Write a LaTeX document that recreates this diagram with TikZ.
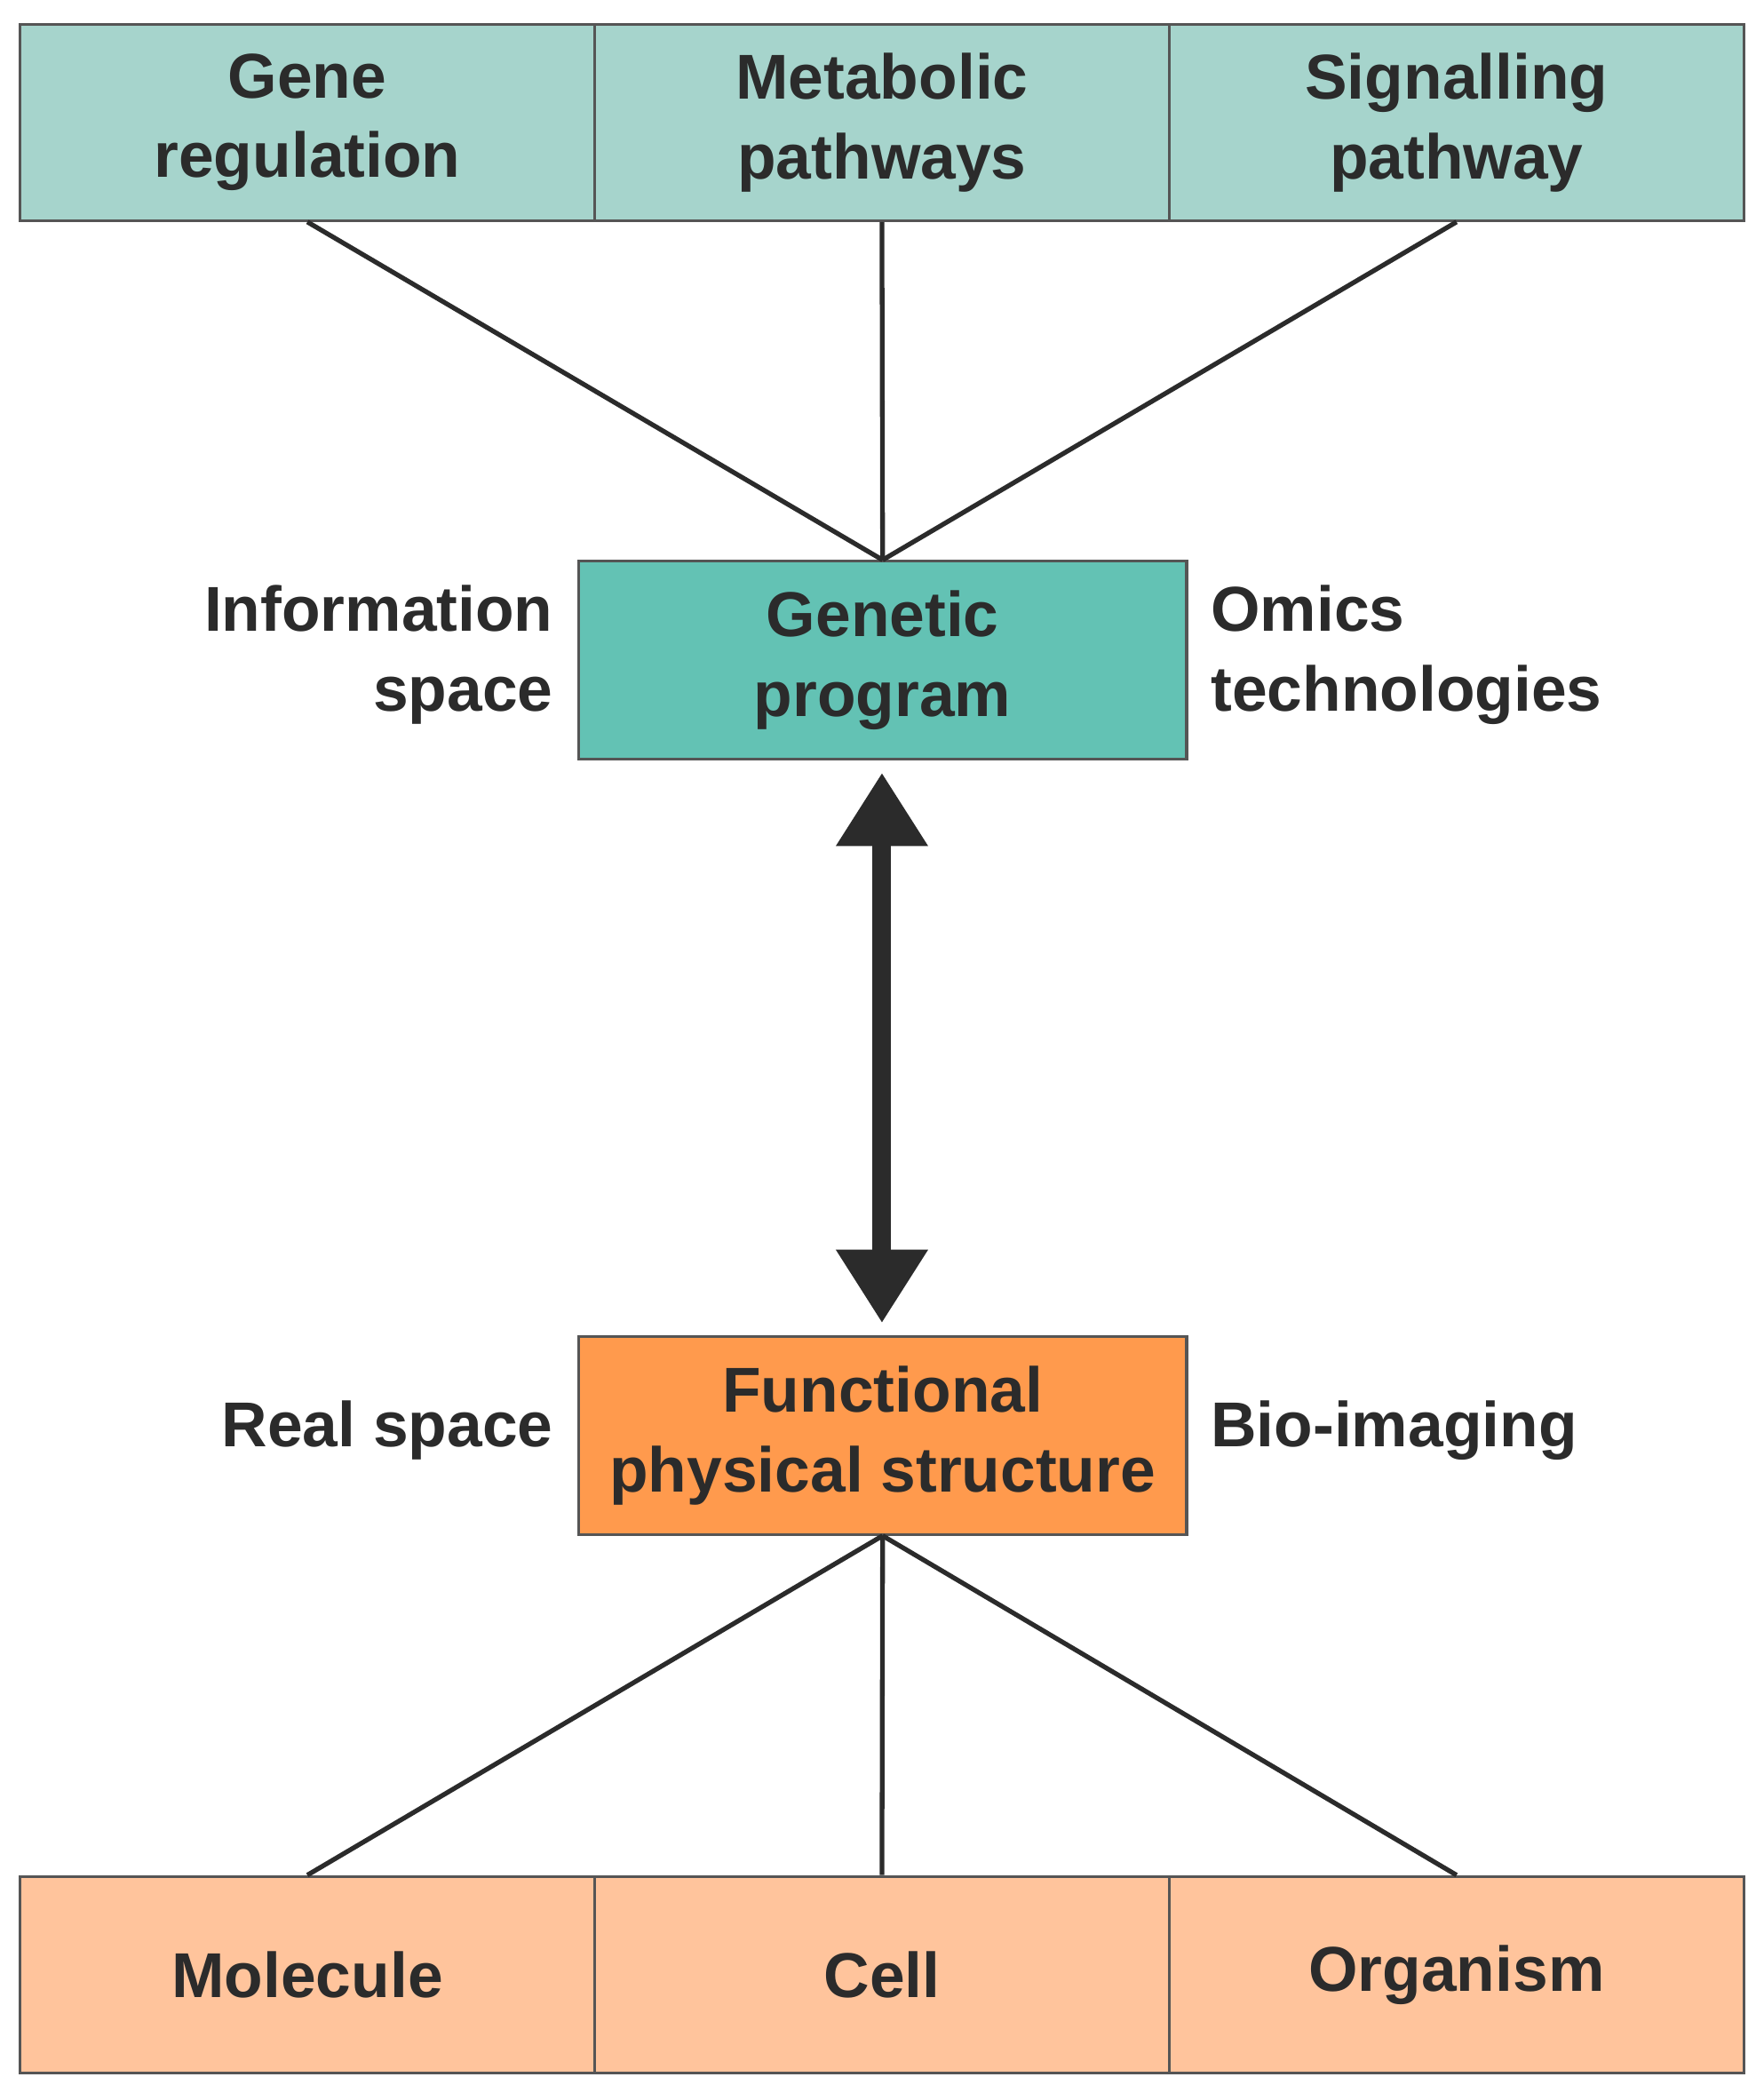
\documentclass[tikz,border=0pt]{standalone}
\usepackage{fontspec}
\setmainfont{Liberation Sans}
\usetikzlibrary{arrows.meta}
\definecolor{tealL}{HTML}{A6D4CC}
\definecolor{tealD}{HTML}{63C2B4}
\definecolor{orgD}{HTML}{FF9A4D}
\definecolor{orgL}{HTML}{FFC49C}
\definecolor{txt}{HTML}{2B2B2B}
\begin{document}
\begin{tikzpicture}[x=0.02cm,y=-0.02cm,
  every node/.style={font=\bfseries\fontsize{27}{34}\selectfont,text=txt},
  box/.style={draw=txt!80,line width=1.2pt,minimum width=8.6cm,minimum height=2.94cm,inner sep=0pt,align=center},
  mid/.style={draw=txt!80,line width=1.2pt,minimum width=9.1cm,minimum height=2.96cm,inner sep=0pt,align=center},
  conn/.style={draw=txt,line width=2pt}]
\useasboundingbox (0,0) rectangle (1320,1566);
\node[box,fill=tealL] (g) at (230,91.5) {Gene\\regulation};
\node[box,fill=tealL] (m) at (660,91.5) {Metabolic\\pathways};
\node[box,fill=tealL] (s) at (1090,91.5) {Signalling\\pathway};
\node[mid,fill=tealD] (gp) at (660.5,494) {Genetic\\program};
\node[mid,fill=orgD] (fp) at (660.5,1074) {Functional\\physical structure};
\node[box,fill=orgL] (mo) at (230,1477.5) {Molecule};
\node[box,fill=orgL] (ce) at (660,1477.5) {Cell};
\node[box,fill=orgL] (or) at (1090,1477.5) {Organism};
\draw[conn] (g.south) -- (gp.north);
\draw[conn] (m.south) -- (gp.north);
\draw[conn] (s.south) -- (gp.north);
\draw[conn] (fp.south) -- (mo.north);
\draw[conn] (fp.south) -- (ce.north);
\draw[conn] (fp.south) -- (or.north);
\coordinate (a1) at (660,578);
\coordinate (a2) at (660,990);
\draw[txt,line width=0.28cm,{Triangle[length=1.1cm,width=1.3cm]}-{Triangle[length=1.1cm,width=1.3cm]}] (a1) -- (a2);
\node[anchor=east,align=right] (is) at (420,490) {Information\\space};
\node[anchor=west,align=left] (ot) at (900,490) {Omics\\technologies};
\node[anchor=east] (rs) at (420,1070) {Real space};
\node[anchor=west] (bi) at (900,1070) {Bio-imaging};
\end{tikzpicture}
\end{document}
